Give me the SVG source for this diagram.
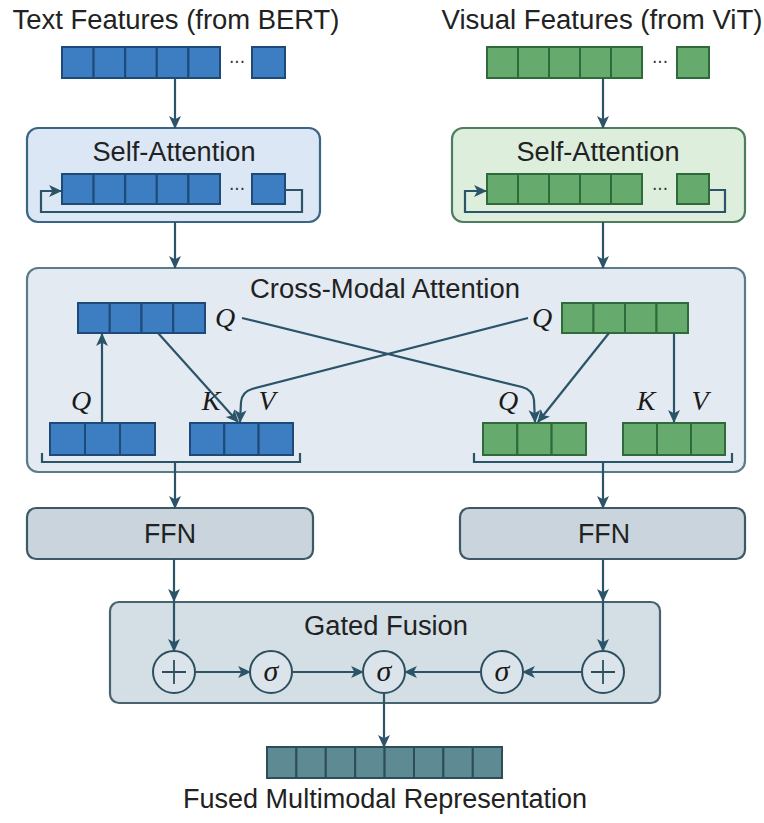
<svg xmlns="http://www.w3.org/2000/svg" width="764" height="823" viewBox="0 0 764 823">
<defs>
<marker id="ah" viewBox="0 0 12 12" refX="11" refY="6" markerWidth="13" markerHeight="13" markerUnits="userSpaceOnUse" orient="auto">
<path d="M0,0.5 L12,6 L0,11.5 L3,6 Z" fill="#2c5469"/>
</marker>
<style>
.t{font-family:"Liberation Sans",Arial,sans-serif;font-size:27px;fill:#222;text-anchor:middle}
.m{font-family:"Liberation Serif","Times New Roman",serif;font-style:italic;font-size:28px;fill:#1a1a1a;text-anchor:middle}
.s{font-family:"Liberation Serif","Times New Roman",serif;font-style:italic;font-size:30px;fill:#1a1a1a;text-anchor:middle}
.dots{font-family:"DejaVu Sans",sans-serif;font-size:17px;fill:#333;text-anchor:middle}
.b{fill:#3d7dc2;stroke:#1d4a76;stroke-width:2}
.g{fill:#66ab6d;stroke:#2e6a3a;stroke-width:2}
.o{fill:#5e8a94;stroke:#2d4d58;stroke-width:2}
.c{fill:none;stroke:#2c5469;stroke-width:2.2}
.ca{fill:none;stroke:#2c5469;stroke-width:2.2;marker-end:url(#ah)}
.cir{fill:#dbe4ea;stroke:#2c4f60;stroke-width:2}
</style>
</defs>
<rect width="764" height="823" fill="#ffffff"/>

<g id="text-input">
<text class="t" x="176" y="29" textLength="327" lengthAdjust="spacingAndGlyphs">Text Features (from BERT)</text>
<rect class="b" x="62" y="47" width="31.6" height="31"/><rect class="b" x="93.6" y="47" width="31.6" height="31"/><rect class="b" x="125.2" y="47" width="31.6" height="31"/><rect class="b" x="156.8" y="47" width="31.6" height="31"/><rect class="b" x="188.4" y="47" width="31.6" height="31"/>
<text class="dots" x="237" y="68">···</text>
<rect class="b" x="252" y="47" width="33" height="31"/>
</g>

<g id="visual-input">
<text class="t" x="602" y="29" textLength="321" lengthAdjust="spacingAndGlyphs">Visual Features (from ViT)</text>
<rect class="g" x="487" y="47" width="31" height="31"/><rect class="g" x="518" y="47" width="31" height="31"/><rect class="g" x="549" y="47" width="31" height="31"/><rect class="g" x="580" y="47" width="31" height="31"/><rect class="g" x="611" y="47" width="31" height="31"/>
<text class="dots" x="660" y="68">···</text>
<rect class="g" x="677" y="47" width="32" height="31"/>
</g>

<g id="text-self-attention">
<rect x="27" y="128" width="293" height="94" rx="11" fill="#dbe7f4" stroke="#3b6584" stroke-width="2.2"/>
<text class="t" x="174" y="161" textLength="163" lengthAdjust="spacingAndGlyphs">Self-Attention</text>
<rect class="b" x="62" y="174" width="31.6" height="30"/><rect class="b" x="93.6" y="174" width="31.6" height="30"/><rect class="b" x="125.2" y="174" width="31.6" height="30"/><rect class="b" x="156.8" y="174" width="31.6" height="30"/><rect class="b" x="188.4" y="174" width="31.6" height="30"/>
<text class="dots" x="237" y="195">···</text>
<rect class="b" x="252" y="174" width="33" height="30"/>
<path class="ca" d="M285,190 H302 V212 H41 V191 H61"/>
</g>

<g id="visual-self-attention">
<rect x="452" y="128" width="293" height="94" rx="11" fill="#ddeedc" stroke="#4f7e5e" stroke-width="2.2"/>
<text class="t" x="598" y="161" textLength="163" lengthAdjust="spacingAndGlyphs">Self-Attention</text>
<rect class="g" x="487" y="174" width="31" height="30"/><rect class="g" x="518" y="174" width="31" height="30"/><rect class="g" x="549" y="174" width="31" height="30"/><rect class="g" x="580" y="174" width="31" height="30"/><rect class="g" x="611" y="174" width="31" height="30"/>
<text class="dots" x="660" y="195">···</text>
<rect class="g" x="677" y="174" width="32" height="30"/>
<path class="ca" d="M709,190 H725 V212 H465 V191 H486"/>
</g>

<g id="cross-modal-attention">
<rect x="27" y="268" width="718" height="204" rx="11" fill="#e3eaf2" stroke="#5a7c89" stroke-width="2.2"/>
<text class="t" x="385" y="298" textLength="270" lengthAdjust="spacingAndGlyphs">Cross-Modal Attention</text>
<rect class="b" x="78" y="303" width="31.75" height="30"/><rect class="b" x="109.75" y="303" width="31.75" height="30"/><rect class="b" x="141.5" y="303" width="31.75" height="30"/><rect class="b" x="173.25" y="303" width="31.75" height="30"/>
<text class="m" x="225" y="327">Q</text>
<rect class="g" x="562" y="303" width="31.5" height="30"/><rect class="g" x="593.5" y="303" width="31.5" height="30"/><rect class="g" x="625" y="303" width="31.5" height="30"/><rect class="g" x="656.5" y="303" width="31.5" height="30"/>
<text class="m" x="542" y="327">Q</text>
<rect class="b" x="50" y="423" width="35" height="32"/><rect class="b" x="85" y="423" width="35" height="32"/><rect class="b" x="120" y="423" width="35" height="32"/>
<text class="m" x="81" y="410">Q</text>
<rect class="b" x="190" y="423" width="34.3" height="32"/><rect class="b" x="224.3" y="423" width="34.3" height="32"/><rect class="b" x="258.6" y="423" width="34.4" height="32"/>
<text class="m" x="211" y="410">K</text>
<text class="m" x="267" y="410">V</text>
<rect class="g" x="483" y="423" width="34.3" height="32"/><rect class="g" x="517.3" y="423" width="34.3" height="32"/><rect class="g" x="551.6" y="423" width="34.4" height="32"/>
<text class="m" x="508" y="410">Q</text>
<rect class="g" x="623" y="423" width="34" height="32"/><rect class="g" x="657" y="423" width="34" height="32"/><rect class="g" x="691" y="423" width="34" height="32"/>
<text class="m" x="646" y="410">K</text>
<text class="m" x="700" y="410">V</text>
<path class="c" d="M42,453 V462 H300 V453"/>
<path class="c" d="M474,453 V462 H732 V453"/>
</g>

<g id="text-ffn">
<rect x="27" y="508" width="286" height="51" rx="9" fill="#c9d4dc" stroke="#3e5966" stroke-width="2.2"/>
<text class="t" x="170" y="543" textLength="52" lengthAdjust="spacingAndGlyphs">FFN</text>
</g>

<g id="visual-ffn">
<rect x="460" y="508" width="285" height="51" rx="9" fill="#c9d4dc" stroke="#3e5966" stroke-width="2.2"/>
<text class="t" x="604" y="543" textLength="52" lengthAdjust="spacingAndGlyphs">FFN</text>
</g>

<g id="gated-fusion">
<rect x="110" y="602" width="550" height="101" rx="9" fill="#d3dee5" stroke="#48636f" stroke-width="2.2"/>
<text class="t" x="386" y="635" textLength="164" lengthAdjust="spacingAndGlyphs">Gated Fusion</text>
</g>
<g id="add-left"><circle class="cir" cx="174" cy="672" r="21"/><path d="M162,672 H186 M174,660 V684" stroke="#2c4f60" stroke-width="1.8"/></g>
<g id="sigma-left"><circle class="cir" cx="271" cy="672" r="21"/><text class="s" x="271" y="681">σ</text></g>
<g id="sigma-mid"><circle class="cir" cx="384" cy="672" r="21"/><text class="s" x="384" y="681">σ</text></g>
<g id="sigma-right"><circle class="cir" cx="502" cy="672" r="21"/><text class="s" x="502" y="681">σ</text></g>
<g id="add-right"><circle class="cir" cx="603" cy="672" r="21"/><path d="M591,672 H615 M603,660 V684" stroke="#2c4f60" stroke-width="1.8"/></g>

<g id="fused-output">
<rect class="o" x="267" y="747" width="29.4" height="31"/><rect class="o" x="296.4" y="747" width="29.4" height="31"/><rect class="o" x="325.8" y="747" width="29.4" height="31"/><rect class="o" x="355.2" y="747" width="29.4" height="31"/><rect class="o" x="384.6" y="747" width="29.4" height="31"/><rect class="o" x="414" y="747" width="29.4" height="31"/><rect class="o" x="443.4" y="747" width="29.4" height="31"/><rect class="o" x="472.8" y="747" width="29.2" height="31"/>
<text class="t" x="385" y="808" textLength="404" lengthAdjust="spacingAndGlyphs">Fused Multimodal Representation</text>
</g>

<g id="connectors">
<path class="ca" d="M175,78 V128"/>
<path class="ca" d="M603,78 V128"/>
<path class="ca" d="M175,222 V268"/>
<path class="ca" d="M603,222 V268"/>
<path class="ca" d="M102,423 V334"/>
<path class="ca" d="M158,333 L238,422"/>
<path class="ca" d="M674,333 V422"/>
<path class="ca" d="M609,333 L538,422"/>
<path class="ca" d="M242,318 L522,387 Q533,390 534,400 L535,422"/>
<path class="ca" d="M528,318 L252,389 Q242,392 241,402 L240,422"/>
<path class="ca" d="M175,462 V508"/>
<path class="ca" d="M603,462 V508"/>
<path class="ca" d="M174,559 V601"/>
<path class="ca" d="M174,601 V651"/>
<path class="ca" d="M603,559 V601"/>
<path class="ca" d="M603,601 V651"/>
<path class="ca" d="M195,672 H250"/>
<path class="ca" d="M292,672 H363"/>
<path class="ca" d="M481,672 H405"/>
<path class="ca" d="M582,672 H523"/>
<path class="ca" d="M384,693 V747"/>
</g>
</svg>
